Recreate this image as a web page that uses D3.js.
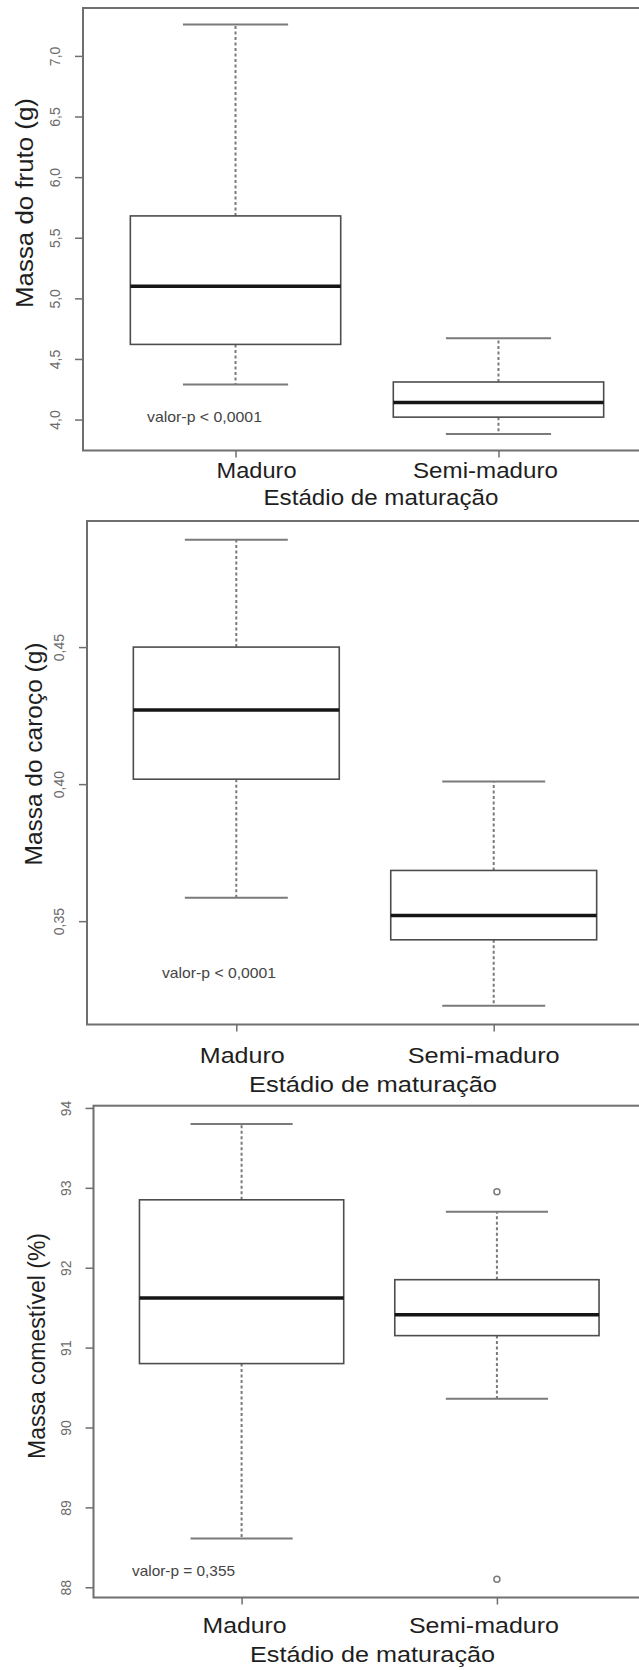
<!DOCTYPE html>
<html>
<head>
<meta charset="utf-8">
<script src="https://cdn.jsdelivr.net/npm/d3@7"></script>
<style>
  html, body { margin: 0; padding: 0; background: #fff; }
  svg { display: block; font-family: "Liberation Sans", Arial, sans-serif; }
</style>
</head>
<body>
<svg id="chart" width="639" height="1670"></svg>
<script>
// Box plots of fruit measurements by ripening stage (three stacked panels)

const categories = ["Maduro", "Semi-maduro"];

// five-number summaries (lower whisker, Q1, median, Q3, upper whisker)
const frutoStats = [
  {lower: 4.29, q1: 4.62, median: 5.10, q3: 5.68, upper: 7.26, outliers: []},
  {lower: 3.88, q1: 4.02, median: 4.14, q3: 4.31, upper: 4.67, outliers: []}
];
const carocoStats = [
  {lower: 0.3585, q1: 0.4018, median: 0.427, q3: 0.450, upper: 0.4892, outliers: []},
  {lower: 0.3191, q1: 0.3432, median: 0.3521, q3: 0.3685, upper: 0.401, outliers: []}
];
const comestivelStats = [
  {lower: 88.61, q1: 90.80, median: 91.62, q3: 92.85, upper: 93.80, outliers: []},
  {lower: 90.36, q1: 91.15, median: 91.41, q3: 91.85, upper: 92.70, outliers: [92.95, 88.10]}
];

// tick values on the y axes
const frutoTicks = [4.0, 4.5, 5.0, 5.5, 6.0, 6.5, 7.0];
const carocoTicks = [0.35, 0.40, 0.45];
const comestivelTicks = [88, 89, 90, 91, 92, 93, 94];

// texts
const yTitles = ["Massa do fruto (g)", "Massa do caroço (g)", "Massa comestível (%)"];
const pValues = ["valor-p < 0,0001", "valor-p < 0,0001", "valor-p = 0,355"];
const xTitle = "Estádio de maturação";

// comma as decimal mark
const fmt1 = v => d3.format(".1f")(v).replace(".", ",");
const fmt2 = v => d3.format(".2f")(v).replace(".", ",");
const fmt0 = v => d3.format("d")(v);

///// Panel layout (pixels) /////
const panels = [
  {stats: frutoStats, ticks: frutoTicks, fmt: fmt1, title: yTitles[0], pval: pValues[0],
   left: 83, right: 651, top: 8, bottom: 450.5,
   titleX: 33, titleY: 203, titleLen: 210, titleSize: 23,
   pX: 147, pY: 422, pLen: 115,
   labY: 478, labDx: [21, -13], labLen: [80, 145], xtY: 505, xtX: 381, xtLen: 235},
  {stats: carocoStats, ticks: carocoTicks, fmt: fmt2, title: yTitles[1], pval: pValues[1],
   left: 87, right: 643, top: 521, bottom: 1024.5,
   titleX: 41.5, titleY: 754, titleLen: 223, titleSize: 24,
   pX: 162, pY: 978, pLen: 114,
   labY: 1063, labDx: [6, -10], labLen: [85, 152], xtY: 1092, xtX: 373, xtLen: 248},
  {stats: comestivelStats, ticks: comestivelTicks, fmt: fmt0, title: yTitles[2], pval: pValues[2],
   left: 93.5, right: 645, top: 1105.7, bottom: 1597.5,
   titleX: 45, titleY: 1346, titleLen: 226, titleSize: 23,
   pX: 132, pY: 1576, pLen: 103,
   labY: 1633, labDx: [3, -13], labLen: [84, 150], xtY: 1661.5, xtX: 372.5, xtLen: 245}
];

const svg = d3.select("#chart");
svg.append("rect").attr("width", 639).attr("height", 1670).attr("fill", "#fff");

const frameColor = "#6f6f6f";
const boxColor = "#4d4d4d";
const whiskColor = "#7a7a7a";

function drawPanel(P) {
  let g = svg.append("g");

  // x scale as in R boxplot: positions 1..n, limits 0.5..n+0.5 extended by 4%
  let x = d3.scaleLinear().domain([0.42, 2.58]).range([P.left, P.right]);

  // y scale: data range extended by 4%
  let lo = d3.min(P.stats, d => d3.min([d.lower].concat(d.outliers)));
  let hi = d3.max(P.stats, d => d3.max([d.upper].concat(d.outliers)));
  let pad = (hi - lo) * 0.04;
  let y = d3.scaleLinear().domain([lo - pad, hi + pad]).range([P.bottom, P.top]);

  // plot frame
  g.append("rect")
    .attr("x", P.left).attr("y", P.top)
    .attr("width", P.right - P.left).attr("height", P.bottom - P.top)
    .attr("fill", "none")
    .attr("stroke", frameColor)
    .attr("stroke-width", 2);

  // y axis
  let gy = g.append("g")
    .attr("transform", "translate(" + P.left + ",0)")
    .call(d3.axisLeft(y).tickValues(P.ticks).tickSize(8).tickFormat(P.fmt));
  gy.select(".domain").remove();
  gy.selectAll(".tick line").attr("stroke", frameColor).attr("stroke-width", 1.5);
  gy.selectAll(".tick text")
    .attr("x", 0).attr("y", 0).attr("dy", null)
    .attr("transform", "translate(-23,0) rotate(-90)")
    .attr("text-anchor", "middle")
    .attr("fill", "#6a6a6a")
    .style("font-size", "14px")
    .style("font-family", "'Liberation Sans', Arial, sans-serif");

  // x axis ticks (labels placed separately)
  let gx = g.append("g")
    .attr("transform", "translate(0," + P.bottom + ")")
    .call(d3.axisBottom(x).tickValues([1, 2]).tickSize(7).tickFormat(""));
  gx.select(".domain").remove();
  gx.selectAll(".tick line").attr("stroke", frameColor).attr("stroke-width", 1.5);

  // boxes
  P.stats.forEach(function(d, i) {
    let c = i + 1;
    // whiskers
    g.append("line")
      .attr("x1", x(c)).attr("x2", x(c))
      .attr("y1", y(d.q3)).attr("y2", y(d.upper))
      .attr("stroke", whiskColor).attr("stroke-width", 2).attr("stroke-dasharray", "3,2.5");
    g.append("line")
      .attr("x1", x(c)).attr("x2", x(c))
      .attr("y1", y(d.q1)).attr("y2", y(d.lower))
      .attr("stroke", whiskColor).attr("stroke-width", 2).attr("stroke-dasharray", "3,2.5");
    // staples
    [d.upper, d.lower].forEach(function(v) {
      g.append("line")
        .attr("x1", x(c - 0.2)).attr("x2", x(c + 0.2))
        .attr("y1", y(v)).attr("y2", y(v))
        .attr("stroke", whiskColor).attr("stroke-width", 2);
    });
    // box
    g.append("rect")
      .attr("x", x(c - 0.4)).attr("y", y(d.q3))
      .attr("width", x(c + 0.4) - x(c - 0.4))
      .attr("height", y(d.q1) - y(d.q3))
      .attr("fill", "#fff")
      .attr("stroke", boxColor).attr("stroke-width", 1.6);
    // median
    g.append("line")
      .attr("x1", x(c - 0.4)).attr("x2", x(c + 0.4))
      .attr("y1", y(d.median)).attr("y2", y(d.median))
      .attr("stroke", "#151515").attr("stroke-width", 3.5);
    // outliers
    g.selectAll(null)
      .data(d.outliers)
      .enter()
      .append("circle")
      .attr("cx", x(c)).attr("cy", v => y(v))
      .attr("r", 3)
      .attr("fill", "none")
      .attr("stroke", whiskColor).attr("stroke-width", 1.5);
  });

  // category labels
  categories.forEach(function(cat, i) {
    g.append("text")
      .attr("x", x(i + 1) + P.labDx[i]).attr("y", P.labY)
      .attr("text-anchor", "middle")
      .attr("textLength", P.labLen[i]).attr("lengthAdjust", "spacingAndGlyphs")
      .attr("fill", "#1e1e1e")
      .style("font-size", "22px")
      .text(cat);
  });

  // x title
  g.append("text")
    .attr("x", P.xtX).attr("y", P.xtY)
    .attr("text-anchor", "middle")
    .attr("textLength", P.xtLen).attr("lengthAdjust", "spacingAndGlyphs")
    .attr("fill", "#1e1e1e")
    .style("font-size", "22px")
    .text(xTitle);

  // y title
  g.append("text")
    .attr("transform", "translate(" + P.titleX + "," + P.titleY + ") rotate(-90)")
    .attr("text-anchor", "middle")
    .attr("textLength", P.titleLen).attr("lengthAdjust", "spacingAndGlyphs")
    .attr("fill", "#1e1e1e")
    .style("font-size", P.titleSize + "px")
    .text(P.title);

  // p-value note
  g.append("text")
    .attr("x", P.pX).attr("y", P.pY)
    .attr("textLength", P.pLen).attr("lengthAdjust", "spacingAndGlyphs")
    .attr("fill", "#444")
    .style("font-size", "14.5px")
    .text(P.pval);
}

panels.forEach(drawPanel);
</script>
</body>
</html>
